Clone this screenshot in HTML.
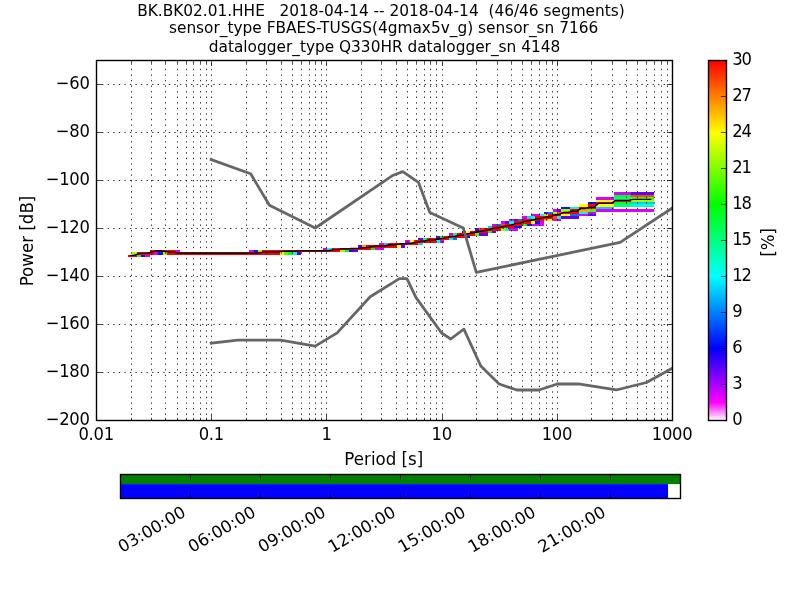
<!DOCTYPE html>
<html lang="en"><head><meta charset="utf-8"><title>PPSD BK.BK02.01.HHE</title>
<style>html,body{margin:0;padding:0;background:#fff;overflow:hidden}svg{display:block}text{font-family:"DejaVu Sans","Liberation Sans",sans-serif;font-size:16.67px;fill:#000}</style></head><body>
<svg width="800" height="600" viewBox="0 0 800 600">
<rect width="800" height="600" fill="#fff"/>
<defs><linearGradient id="pqlx" x1="0" y1="1" x2="0" y2="0"><stop offset="0" stop-color="#fff"/><stop offset="0.05" stop-color="#f0f"/><stop offset="0.2" stop-color="#00f"/><stop offset="0.4" stop-color="#0ff"/><stop offset="0.6" stop-color="#0f0"/><stop offset="0.8" stop-color="#ff0"/><stop offset="1" stop-color="#f00"/></linearGradient><clipPath id="axclip"><rect x="96" y="60" width="576" height="360"/></clipPath></defs>
<g id="hist" shape-rendering="crispEdges">
<rect x="128" y="255" width="9" height="2" fill="#ff0000"/>
<rect x="137" y="255" width="4" height="2" fill="#00ff1a"/>
<rect x="141" y="255" width="4" height="2" fill="#0016ff"/>
<rect x="145" y="255" width="5" height="2" fill="#d900ff"/>
<rect x="132" y="252" width="5" height="3" fill="#9fff00"/>
<rect x="137" y="252" width="17" height="3" fill="#ff0000"/>
<rect x="154" y="252" width="4" height="3" fill="#d900ff"/>
<rect x="158" y="252" width="5" height="3" fill="#0016ff"/>
<rect x="163" y="252" width="4" height="3" fill="#9fff00"/>
<rect x="167" y="252" width="113" height="3" fill="#ff0000"/>
<rect x="280" y="252" width="4" height="3" fill="#fbff00"/>
<rect x="284" y="252" width="4" height="3" fill="#43ff00"/>
<rect x="288" y="252" width="5" height="3" fill="#00ff1a"/>
<rect x="293" y="252" width="4" height="3" fill="#00ffd3"/>
<rect x="297" y="252" width="4" height="3" fill="#5e00ff"/>
<rect x="150" y="250" width="26" height="2" fill="#ff0000"/>
<rect x="176" y="250" width="4" height="2" fill="#d900ff"/>
<rect x="249" y="250" width="5" height="2" fill="#d900ff"/>
<rect x="254" y="250" width="4" height="2" fill="#0016ff"/>
<rect x="258" y="250" width="4" height="2" fill="#9fff00"/>
<rect x="262" y="250" width="78" height="2" fill="#ff0000"/>
<rect x="340" y="250" width="5" height="2" fill="#9fff00"/>
<rect x="345" y="250" width="4" height="2" fill="#00ff1a"/>
<rect x="349" y="250" width="4" height="2" fill="#0016ff"/>
<rect x="353" y="250" width="5" height="2" fill="#5e00ff"/>
<rect x="323" y="248" width="4" height="2" fill="#d900ff"/>
<rect x="327" y="248" width="5" height="2" fill="#00ffd3"/>
<rect x="332" y="248" width="39" height="2" fill="#ff0000"/>
<rect x="371" y="248" width="4" height="2" fill="#00ff1a"/>
<rect x="375" y="248" width="9" height="2" fill="#d900ff"/>
<rect x="358" y="245" width="4" height="3" fill="#5e00ff"/>
<rect x="362" y="245" width="4" height="3" fill="#ffa600"/>
<rect x="366" y="245" width="31" height="3" fill="#ff0000"/>
<rect x="397" y="245" width="4" height="3" fill="#fbff00"/>
<rect x="401" y="245" width="4" height="3" fill="#5e00ff"/>
<rect x="379" y="243" width="5" height="2" fill="#d900ff"/>
<rect x="384" y="243" width="4" height="2" fill="#00cfff"/>
<rect x="388" y="243" width="30" height="2" fill="#ff0000"/>
<rect x="418" y="243" width="5" height="2" fill="#00cfff"/>
<rect x="405" y="240" width="5" height="3" fill="#d900ff"/>
<rect x="410" y="240" width="4" height="3" fill="#fbff00"/>
<rect x="414" y="240" width="22" height="3" fill="#ff0000"/>
<rect x="436" y="240" width="4" height="3" fill="#00ffd3"/>
<rect x="440" y="240" width="4" height="3" fill="#d900ff"/>
<rect x="418" y="238" width="5" height="2" fill="#5e00ff"/>
<rect x="423" y="238" width="4" height="2" fill="#00ff76"/>
<rect x="427" y="238" width="22" height="2" fill="#ff0000"/>
<rect x="449" y="238" width="4" height="2" fill="#00ffd3"/>
<rect x="453" y="238" width="4" height="2" fill="#0073ff"/>
<rect x="436" y="236" width="4" height="2" fill="#5e00ff"/>
<rect x="440" y="236" width="4" height="2" fill="#00ff1a"/>
<rect x="444" y="236" width="22" height="2" fill="#ff0000"/>
<rect x="466" y="236" width="4" height="2" fill="#0016ff"/>
<rect x="449" y="233" width="4" height="3" fill="#d900ff"/>
<rect x="453" y="233" width="4" height="3" fill="#00ff76"/>
<rect x="457" y="233" width="18" height="3" fill="#ff0000"/>
<rect x="475" y="233" width="4" height="3" fill="#43ff00"/>
<rect x="479" y="233" width="9" height="3" fill="#5e00ff"/>
<rect x="462" y="231" width="4" height="2" fill="#0016ff"/>
<rect x="466" y="231" width="4" height="2" fill="#fbff00"/>
<rect x="470" y="231" width="18" height="2" fill="#ff0000"/>
<rect x="488" y="231" width="4" height="2" fill="#00ff1a"/>
<rect x="492" y="231" width="4" height="2" fill="#5e00ff"/>
<rect x="475" y="228" width="4" height="3" fill="#5e00ff"/>
<rect x="479" y="228" width="4" height="3" fill="#ff4a00"/>
<rect x="483" y="228" width="18" height="3" fill="#ff0000"/>
<rect x="501" y="228" width="4" height="3" fill="#9fff00"/>
<rect x="505" y="228" width="4" height="3" fill="#00ffd3"/>
<rect x="509" y="228" width="9" height="3" fill="#d900ff"/>
<rect x="488" y="226" width="4" height="2" fill="#00cfff"/>
<rect x="492" y="226" width="22" height="2" fill="#ff0000"/>
<rect x="514" y="226" width="8" height="2" fill="#0016ff"/>
<rect x="492" y="224" width="4" height="2" fill="#d900ff"/>
<rect x="496" y="224" width="5" height="2" fill="#0073ff"/>
<rect x="501" y="224" width="4" height="2" fill="#ff4a00"/>
<rect x="505" y="224" width="17" height="2" fill="#ff0000"/>
<rect x="522" y="224" width="5" height="2" fill="#00ff1a"/>
<rect x="527" y="224" width="4" height="2" fill="#0016ff"/>
<rect x="531" y="224" width="13" height="2" fill="#d900ff"/>
<rect x="501" y="221" width="4" height="3" fill="#d900ff"/>
<rect x="505" y="221" width="4" height="3" fill="#5e00ff"/>
<rect x="509" y="221" width="5" height="3" fill="#00ffd3"/>
<rect x="514" y="221" width="17" height="3" fill="#ff0000"/>
<rect x="531" y="221" width="4" height="3" fill="#fbff00"/>
<rect x="535" y="221" width="5" height="3" fill="#0016ff"/>
<rect x="540" y="221" width="4" height="3" fill="#d900ff"/>
<rect x="509" y="219" width="5" height="2" fill="#d900ff"/>
<rect x="514" y="219" width="4" height="2" fill="#5e00ff"/>
<rect x="518" y="219" width="4" height="2" fill="#0073ff"/>
<rect x="522" y="219" width="22" height="2" fill="#ff0000"/>
<rect x="544" y="219" width="4" height="2" fill="#ffa600"/>
<rect x="548" y="219" width="5" height="2" fill="#fbff00"/>
<rect x="553" y="219" width="8" height="2" fill="#d900ff"/>
<rect x="522" y="216" width="5" height="3" fill="#d900ff"/>
<rect x="527" y="216" width="4" height="3" fill="#00cfff"/>
<rect x="531" y="216" width="4" height="3" fill="#00ffd3"/>
<rect x="535" y="216" width="18" height="3" fill="#ff0000"/>
<rect x="553" y="216" width="4" height="3" fill="#ff4a00"/>
<rect x="557" y="216" width="4" height="3" fill="#00ffd3"/>
<rect x="561" y="216" width="18" height="3" fill="#5e00ff"/>
<rect x="531" y="214" width="9" height="2" fill="#d900ff"/>
<rect x="540" y="214" width="4" height="2" fill="#00ffd3"/>
<rect x="544" y="214" width="4" height="2" fill="#9fff00"/>
<rect x="548" y="214" width="13" height="2" fill="#ff0000"/>
<rect x="561" y="214" width="9" height="2" fill="#fbff00"/>
<rect x="570" y="214" width="9" height="2" fill="#0073ff"/>
<rect x="579" y="214" width="9" height="2" fill="#d900ff"/>
<rect x="588" y="214" width="8" height="2" fill="#5e00ff"/>
<rect x="544" y="212" width="4" height="2" fill="#5e00ff"/>
<rect x="548" y="212" width="5" height="2" fill="#0073ff"/>
<rect x="553" y="212" width="4" height="2" fill="#9fff00"/>
<rect x="557" y="212" width="4" height="2" fill="#ff4a00"/>
<rect x="561" y="212" width="18" height="2" fill="#ff0000"/>
<rect x="579" y="212" width="9" height="2" fill="#00ffd3"/>
<rect x="588" y="212" width="8" height="2" fill="#d900ff"/>
<rect x="553" y="209" width="4" height="3" fill="#d900ff"/>
<rect x="557" y="209" width="4" height="3" fill="#5e00ff"/>
<rect x="561" y="209" width="9" height="3" fill="#9fff00"/>
<rect x="570" y="209" width="9" height="3" fill="#ff0000"/>
<rect x="579" y="209" width="9" height="3" fill="#ffa600"/>
<rect x="588" y="209" width="8" height="3" fill="#43ff00"/>
<rect x="596" y="209" width="58" height="3" fill="#d900ff"/>
<rect x="561" y="207" width="9" height="2" fill="#0016ff"/>
<rect x="570" y="207" width="9" height="2" fill="#00ffd3"/>
<rect x="579" y="207" width="17" height="2" fill="#ff0000"/>
<rect x="596" y="207" width="18" height="2" fill="#00cfff"/>
<rect x="579" y="204" width="9" height="3" fill="#fbff00"/>
<rect x="588" y="204" width="8" height="3" fill="#ff0000"/>
<rect x="596" y="204" width="18" height="3" fill="#fbff00"/>
<rect x="614" y="204" width="17" height="3" fill="#00ff76"/>
<rect x="631" y="204" width="23" height="3" fill="#00ffd3"/>
<rect x="588" y="202" width="8" height="2" fill="#0016ff"/>
<rect x="596" y="202" width="18" height="2" fill="#ff0000"/>
<rect x="614" y="202" width="17" height="2" fill="#00ff1a"/>
<rect x="631" y="202" width="23" height="2" fill="#00cfff"/>
<rect x="596" y="200" width="18" height="2" fill="#fbff00"/>
<rect x="614" y="200" width="17" height="2" fill="#ff0000"/>
<rect x="631" y="200" width="23" height="2" fill="#9fff00"/>
<rect x="596" y="197" width="18" height="3" fill="#d900ff"/>
<rect x="614" y="197" width="17" height="3" fill="#00ff76"/>
<rect x="631" y="197" width="23" height="3" fill="#43ff00"/>
<rect x="614" y="195" width="17" height="2" fill="#00ff1a"/>
<rect x="631" y="195" width="23" height="2" fill="#ff4a00"/>
<rect x="614" y="192" width="17" height="3" fill="#d900ff"/>
<rect x="631" y="192" width="23" height="3" fill="#5e00ff"/>
</g>
<path d="M96.5 420.5 V60.5M131.5 420.5 V60.5M151.5 420.5 V60.5M165.5 420.5 V60.5M177.5 420.5 V60.5M186.5 420.5 V60.5M193.5 420.5 V60.5M200.5 420.5 V60.5M206.5 420.5 V60.5M211.5 420.5 V60.5M246.5 420.5 V60.5M266.5 420.5 V60.5M281.5 420.5 V60.5M292.5 420.5 V60.5M301.5 420.5 V60.5M309.5 420.5 V60.5M315.5 420.5 V60.5M321.5 420.5 V60.5M326.5 420.5 V60.5M361.5 420.5 V60.5M381.5 420.5 V60.5M396.5 420.5 V60.5M407.5 420.5 V60.5M416.5 420.5 V60.5M424.5 420.5 V60.5M430.5 420.5 V60.5M436.5 420.5 V60.5M442.5 420.5 V60.5M476.5 420.5 V60.5M497.5 420.5 V60.5M511.5 420.5 V60.5M522.5 420.5 V60.5M531.5 420.5 V60.5M539.5 420.5 V60.5M546.5 420.5 V60.5M552.5 420.5 V60.5M557.5 420.5 V60.5M591.5 420.5 V60.5M612.5 420.5 V60.5M626.5 420.5 V60.5M637.5 420.5 V60.5M646.5 420.5 V60.5M654.5 420.5 V60.5M661.5 420.5 V60.5M667.5 420.5 V60.5M672.5 420.5 V60.5M96.5 420.5 H672.5M96.5 372.5 H672.5M96.5 324.5 H672.5M96.5 276.5 H672.5M96.5 228.5 H672.5M96.5 180.5 H672.5M96.5 132.5 H672.5M96.5 84.5 H672.5" fill="none" stroke="#000" stroke-width="0.8" stroke-dasharray="1.39 4.17" />
<polyline points="130.18,255.60 134.51,255.08 138.85,253.62 143.18,253.36 147.52,253.25 151.85,252.00 156.19,250.85 160.52,250.96 164.86,251.32 169.19,252.00 173.53,252.00 177.86,253.15 182.20,253.20 186.53,253.20 190.87,253.20 195.20,253.20 199.53,253.20 203.87,253.20 208.20,253.20 212.54,253.20 216.87,253.20 221.21,253.20 225.54,253.20 229.88,253.20 234.21,253.20 238.55,253.20 242.88,253.20 247.22,253.20 251.55,253.15 255.89,253.04 260.22,252.68 264.56,252.00 268.89,252.00 273.23,252.00 277.56,252.00 281.90,251.37 286.23,251.27 290.57,251.22 294.90,251.11 299.24,250.90 303.57,250.80 307.91,250.80 312.24,250.80 316.58,250.80 320.91,250.80 325.24,250.75 329.58,250.49 333.91,249.60 338.25,249.60 342.58,248.92 346.92,248.82 351.25,248.56 355.59,248.50 359.92,248.30 364.26,247.77 368.59,247.20 372.93,246.42 377.26,246.05 381.60,246.00 385.93,245.74 390.27,244.80 394.60,244.80 398.94,244.17 403.27,243.70 407.61,243.55 411.94,243.03 416.28,242.40 420.61,241.36 424.95,240.83 429.28,240.00 433.62,240.00 437.95,239.01 442.29,238.43 446.62,237.60 450.95,236.66 455.29,236.24 459.62,235.20 463.96,234.97 468.29,233.58 472.63,232.80 476.96,231.97 481.30,231.03 485.63,230.56 489.97,229.36 494.30,228.08 498.64,227.69 502.97,226.54 507.31,225.91 511.64,225.08 515.98,223.41 520.31,223.12 524.65,221.35 528.98,220.64 533.32,219.86 537.65,218.69 541.99,218.14 546.32,217.10 550.66,216.55 554.99,214.96 559.33,214.33 563.66,212.35 568.00,212.35 572.33,211.30 576.66,211.30 581.00,208.43 585.33,208.43 589.67,207.37 594.00,207.37 598.34,203.37 602.67,203.37 607.01,203.37 611.34,203.37 615.68,200.40 620.01,200.40 624.35,200.40 628.68,200.40 633.02,199.36 637.35,199.36 641.69,199.36 646.02,199.36 650.36,199.36 651.40,199.36" fill="none" stroke="#000" stroke-width="1.39" stroke-linejoin="round"/>
<polyline clip-path="url(#axclip)" points="211.20,343.20 237.75,340.08 237.75,340.08 280.56,340.08 280.56,340.07 315.24,346.07 315.24,346.08 337.16,332.88 337.16,332.87 370.20,296.75 370.20,296.75 399.38,278.63 399.38,278.64 406.92,278.64 406.92,278.63 416.04,297.59 416.04,297.60 441.60,333.00 441.60,333.00 450.72,339.00 450.72,338.99 463.85,329.10 463.85,329.11 480.82,366.00 480.82,366.01 499.16,384.01 499.16,383.99 516.85,389.99 516.85,390.00 538.96,390.00 538.96,390.00 557.30,384.01 557.30,384.00 578.40,384.00 578.40,383.97 616.23,389.97 616.23,389.98 646.44,382.49 646.44,382.51 787.20,304.51 787.20,304.51 902.40,187.51" fill="none" stroke="#666" stroke-width="2.78" stroke-linejoin="round" stroke-linecap="square"/>
<polyline clip-path="url(#axclip)" points="211.20,159.60 250.65,173.76 250.65,173.77 269.39,205.21 269.39,205.20 315.24,227.99 315.24,228.00 393.19,175.20 393.19,175.19 402.75,171.59 402.75,171.59 418.48,182.40 418.48,182.40 429.81,212.40 429.81,212.39 463.20,227.99 463.20,228.01 476.28,272.40 476.28,272.39 620.16,242.39 620.16,242.41 902.40,56.42" fill="none" stroke="#666" stroke-width="2.78" stroke-linejoin="round" stroke-linecap="square"/>
<path d="M96.5 420.5 v-5.56 M96.5 60.5 v5.56M131.5 420.5 v-2.78 M131.5 60.5 v2.78M151.5 420.5 v-2.78 M151.5 60.5 v2.78M165.5 420.5 v-2.78 M165.5 60.5 v2.78M177.5 420.5 v-2.78 M177.5 60.5 v2.78M186.5 420.5 v-2.78 M186.5 60.5 v2.78M193.5 420.5 v-2.78 M193.5 60.5 v2.78M200.5 420.5 v-2.78 M200.5 60.5 v2.78M206.5 420.5 v-2.78 M206.5 60.5 v2.78M211.5 420.5 v-5.56 M211.5 60.5 v5.56M246.5 420.5 v-2.78 M246.5 60.5 v2.78M266.5 420.5 v-2.78 M266.5 60.5 v2.78M281.5 420.5 v-2.78 M281.5 60.5 v2.78M292.5 420.5 v-2.78 M292.5 60.5 v2.78M301.5 420.5 v-2.78 M301.5 60.5 v2.78M309.5 420.5 v-2.78 M309.5 60.5 v2.78M315.5 420.5 v-2.78 M315.5 60.5 v2.78M321.5 420.5 v-2.78 M321.5 60.5 v2.78M326.5 420.5 v-5.56 M326.5 60.5 v5.56M361.5 420.5 v-2.78 M361.5 60.5 v2.78M381.5 420.5 v-2.78 M381.5 60.5 v2.78M396.5 420.5 v-2.78 M396.5 60.5 v2.78M407.5 420.5 v-2.78 M407.5 60.5 v2.78M416.5 420.5 v-2.78 M416.5 60.5 v2.78M424.5 420.5 v-2.78 M424.5 60.5 v2.78M430.5 420.5 v-2.78 M430.5 60.5 v2.78M436.5 420.5 v-2.78 M436.5 60.5 v2.78M442.5 420.5 v-5.56 M442.5 60.5 v5.56M476.5 420.5 v-2.78 M476.5 60.5 v2.78M497.5 420.5 v-2.78 M497.5 60.5 v2.78M511.5 420.5 v-2.78 M511.5 60.5 v2.78M522.5 420.5 v-2.78 M522.5 60.5 v2.78M531.5 420.5 v-2.78 M531.5 60.5 v2.78M539.5 420.5 v-2.78 M539.5 60.5 v2.78M546.5 420.5 v-2.78 M546.5 60.5 v2.78M552.5 420.5 v-2.78 M552.5 60.5 v2.78M557.5 420.5 v-5.56 M557.5 60.5 v5.56M591.5 420.5 v-2.78 M591.5 60.5 v2.78M612.5 420.5 v-2.78 M612.5 60.5 v2.78M626.5 420.5 v-2.78 M626.5 60.5 v2.78M637.5 420.5 v-2.78 M637.5 60.5 v2.78M646.5 420.5 v-2.78 M646.5 60.5 v2.78M654.5 420.5 v-2.78 M654.5 60.5 v2.78M661.5 420.5 v-2.78 M661.5 60.5 v2.78M667.5 420.5 v-2.78 M667.5 60.5 v2.78M672.5 420.5 v-5.56 M672.5 60.5 v5.56M96.5 420.5 h5.56 M672.5 420.5 h-5.56M96.5 372.5 h5.56 M672.5 372.5 h-5.56M96.5 324.5 h5.56 M672.5 324.5 h-5.56M96.5 276.5 h5.56 M672.5 276.5 h-5.56M96.5 228.5 h5.56 M672.5 228.5 h-5.56M96.5 180.5 h5.56 M672.5 180.5 h-5.56M96.5 132.5 h5.56 M672.5 132.5 h-5.56M96.5 84.5 h5.56 M672.5 84.5 h-5.56" fill="none" stroke="#000" stroke-width="0.7"/>
<rect x="96.5" y="60.5" width="576" height="360" fill="none" stroke="#000" stroke-width="1.39"/>
<text transform="translate(89.60 424.70) scale(0.985 1.075)" text-anchor="end" style="letter-spacing:-0.3px">−200</text>
<text transform="translate(89.60 376.70) scale(0.985 1.075)" text-anchor="end" style="letter-spacing:-0.3px">−180</text>
<text transform="translate(89.60 328.70) scale(0.985 1.075)" text-anchor="end" style="letter-spacing:-0.3px">−160</text>
<text transform="translate(89.60 280.70) scale(0.985 1.075)" text-anchor="end" style="letter-spacing:-0.3px">−140</text>
<text transform="translate(89.60 232.70) scale(0.985 1.075)" text-anchor="end" style="letter-spacing:-0.3px">−120</text>
<text transform="translate(89.60 184.70) scale(0.985 1.075)" text-anchor="end" style="letter-spacing:-0.3px">−100</text>
<text transform="translate(89.60 136.70) scale(0.985 1.075)" text-anchor="end" style="letter-spacing:-0.3px">−80</text>
<text transform="translate(89.60 88.70) scale(0.985 1.075)" text-anchor="end" style="letter-spacing:-0.3px">−60</text>
<text transform="translate(96.10 439.90) scale(0.985 1.075)" text-anchor="middle" style="letter-spacing:-0.3px">0.01</text>
<text transform="translate(211.30 439.90) scale(0.985 1.075)" text-anchor="middle" style="letter-spacing:-0.3px">0.1</text>
<text transform="translate(326.50 439.90) scale(0.985 1.075)" text-anchor="middle" style="letter-spacing:-0.3px">1</text>
<text transform="translate(441.70 439.90) scale(0.985 1.075)" text-anchor="middle" style="letter-spacing:-0.3px">10</text>
<text transform="translate(556.90 439.90) scale(0.985 1.075)" text-anchor="middle" style="letter-spacing:-0.3px">100</text>
<text transform="translate(672.10 439.90) scale(0.985 1.075)" text-anchor="middle" style="letter-spacing:-0.3px">1000</text>
<text transform="translate(383.80 464.80) scale(1 1.075)" text-anchor="middle">Period [s]</text>
<text transform="translate(33.00 241.00) rotate(-90) scale(1 1.075)" text-anchor="middle">Power [dB]</text>
<text x="381" y="16" text-anchor="middle" xml:space="preserve" style="white-space:pre;font-size:15.35px">BK.BK02.01.HHE   2018-04-14 -- 2018-04-14  (46/46 segments)</text>
<text x="383.6" y="32.75" text-anchor="middle" style="font-size:15.35px">sensor_type FBAES-TUSGS(4gmax5v_g) sensor_sn 7166</text>
<text x="384.5" y="51.5" text-anchor="middle" style="font-size:15.35px">datalogger_type Q330HR datalogger_sn 4148</text>
<rect x="708.5" y="60.5" width="18" height="360" fill="url(#pqlx)"/>
<text transform="translate(732.30 424.50) scale(0.985 1.075)" style="letter-spacing:-1.3px">0</text>
<text transform="translate(732.30 388.50) scale(0.985 1.075)" style="letter-spacing:-1.3px">3</text>
<text transform="translate(732.30 352.50) scale(0.985 1.075)" style="letter-spacing:-1.3px">6</text>
<text transform="translate(732.30 316.50) scale(0.985 1.075)" style="letter-spacing:-1.3px">9</text>
<text transform="translate(732.30 280.50) scale(0.985 1.075)" style="letter-spacing:-1.3px">12</text>
<text transform="translate(732.30 244.50) scale(0.985 1.075)" style="letter-spacing:-1.3px">15</text>
<text transform="translate(732.30 208.50) scale(0.985 1.075)" style="letter-spacing:-1.3px">18</text>
<text transform="translate(732.30 172.50) scale(0.985 1.075)" style="letter-spacing:-1.3px">21</text>
<text transform="translate(732.30 136.50) scale(0.985 1.075)" style="letter-spacing:-1.3px">24</text>
<text transform="translate(732.30 100.50) scale(0.985 1.075)" style="letter-spacing:-1.3px">27</text>
<text transform="translate(732.30 64.50) scale(0.985 1.075)" style="letter-spacing:-1.3px">30</text>
<path d="M726.5 420.50 h-5.56M726.5 384.50 h-5.56M726.5 348.50 h-5.56M726.5 312.50 h-5.56M726.5 276.50 h-5.56M726.5 240.50 h-5.56M726.5 204.50 h-5.56M726.5 168.50 h-5.56M726.5 132.50 h-5.56M726.5 96.50 h-5.56M726.5 60.50 h-5.56" fill="none" stroke="#000" stroke-width="0.7"/>
<rect x="708.5" y="60.5" width="18" height="360" fill="none" stroke="#000" stroke-width="1.39"/>
<text transform="translate(773.60 242.30) rotate(-90) scale(1 1.075)" text-anchor="middle">[%]</text>
<rect x="120.5" y="474.5" width="560" height="9.6" fill="#008000"/>
<rect x="120.5" y="484.1" width="547.5" height="14.4" fill="#0000ff"/>
<text transform="translate(187.00 515.50) rotate(-30)" text-anchor="end">03:00:00</text>
<text transform="translate(257.00 515.50) rotate(-30)" text-anchor="end">06:00:00</text>
<text transform="translate(327.00 515.50) rotate(-30)" text-anchor="end">09:00:00</text>
<text transform="translate(397.00 515.50) rotate(-30)" text-anchor="end">12:00:00</text>
<text transform="translate(467.00 515.50) rotate(-30)" text-anchor="end">15:00:00</text>
<text transform="translate(537.00 515.50) rotate(-30)" text-anchor="end">18:00:00</text>
<text transform="translate(607.00 515.50) rotate(-30)" text-anchor="end">21:00:00</text>
<path d="M190.50 498.5 v-5.56 M190.50 474.5 v5.56M260.50 498.5 v-5.56 M260.50 474.5 v5.56M330.50 498.5 v-5.56 M330.50 474.5 v5.56M400.50 498.5 v-5.56 M400.50 474.5 v5.56M470.50 498.5 v-5.56 M470.50 474.5 v5.56M540.50 498.5 v-5.56 M540.50 474.5 v5.56M610.50 498.5 v-5.56 M610.50 474.5 v5.56" fill="none" stroke="#000" stroke-width="0.7"/>
<rect x="120.5" y="474.5" width="560" height="24" fill="none" stroke="#000" stroke-width="1.39"/>
</svg></body></html>
